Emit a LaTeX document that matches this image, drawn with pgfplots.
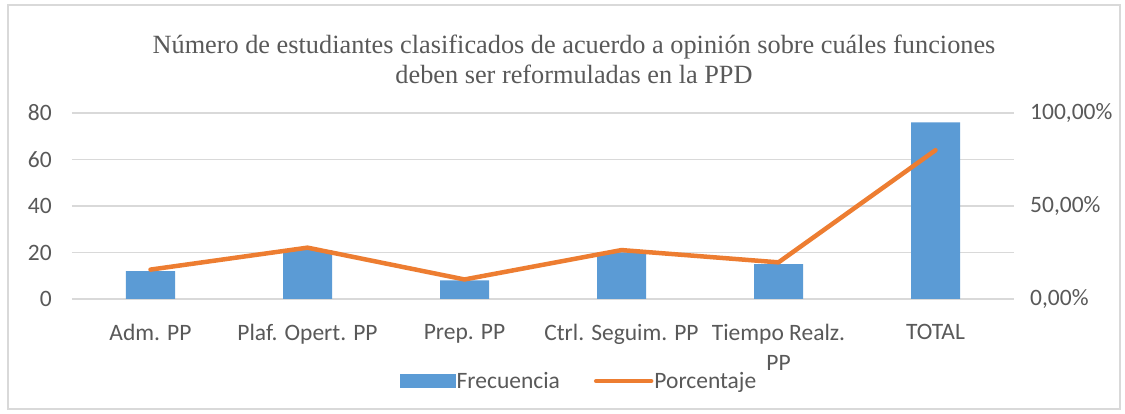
\documentclass[border=0pt]{standalone}
\usepackage{pgfplots}
\pgfplotsset{compat=1.18}
\usepackage{fontspec}
\setmainfont{Carlito}
\newfontfamily\titlefont{Liberation Serif}
\definecolor{barblue}{HTML}{5B9BD5}
\definecolor{lineor}{HTML}{ED7D31}
\definecolor{gridg}{HTML}{D9D9D9}
\definecolor{txt}{HTML}{595959}
\begin{document}
\begin{tikzpicture}
\useasboundingbox (-72pt,-115pt) rectangle (1053pt,299pt);
\fill[white] (-72pt,-115pt) rectangle (1053pt,299pt);
\draw[gridg, line width=1.2pt] (-64pt,-110pt) rectangle (1048pt,294pt);
\begin{axis}[
  at={(0pt,0pt)}, anchor=south west, scale only axis,
  width=942pt, height=186pt,
  xmin=-0.5, xmax=5.5, ymin=0, ymax=80,
  axis line style={draw=none}, tick style={draw=none},
  ymajorgrids, grid style={gridg, line width=1.6pt},
  ytick={0,20,40,60,80},
  /pgf/number format/assume math mode=true,
  xtick={0,1,2,3,4,5},
  xticklabels={Adm. PP, Plaf. Opert. PP, Prep. PP, Ctrl. Seguim. PP, {Tiempo Realz.\\PP}, TOTAL},
  tick label style={font=\fontsize{23.5}{30}\selectfont, text=txt},
  yticklabel style={anchor=east, inner sep=0pt, xshift=-20pt},
  xticklabel style={anchor=north, inner sep=0pt, yshift=-21pt, align=center},
  title={Número de estudiantes clasificados de acuerdo a opinión sobre cuáles funciones\\deben ser reformuladas en la PPD},
  title style={font=\titlefont\fontsize{26.3}{30}\selectfont, text=txt, align=center,
    at={(axis description cs:0.5,1)}, anchor=north, inner sep=0pt, yshift=72pt, xshift=31pt},
  ybar, bar width=49pt,
]
\addplot[fill=barblue, draw=none, bar shift=0pt] coordinates {(0,12) (1,21) (2,8) (3,20) (4,15) (5,76)};
\end{axis}
\begin{axis}[
  at={(0pt,0pt)}, anchor=south west, scale only axis,
  width=942pt, height=186pt,
  xmin=-0.5, xmax=5.5, ymin=0, ymax=1,
  axis x line=none, axis y line*=right,
  axis line style={draw=none}, tick style={draw=none},
  ytick={0,0.5,1},
  yticklabels={{0,00\%},{50,00\%},{100,00\%}},
  tick label style={font=\fontsize{23.5}{30}\selectfont, text=txt},
  yticklabel style={anchor=west, inner sep=0pt, xshift=16pt},
  legend columns=-1,
  legend style={draw=none, fill=none, at={(axis description cs:0.538,-0.441)}, anchor=center,
    font=\fontsize{23.5}{30}\selectfont, text=txt,
    nodes={inner sep=1pt},
    /tikz/every even column/.append style={column sep=33pt}},
]
\addlegendimage{legend image code/.code={\fill[barblue] (0pt,-6.5pt) rectangle (55pt,6.5pt);}}
\addlegendentry{Frecuencia}
\addplot[lineor, line width=4.5pt, line cap=round, line join=round, mark=none,
  legend image code/.code={\draw[lineor, line width=4.5pt] (0pt,0pt) -- (55pt,0pt);}]
  coordinates {(0,0.158) (1,0.276) (2,0.105) (3,0.263) (4,0.197) (5,0.80)};
\addlegendentry{Porcentaje}
\end{axis}
\end{tikzpicture}
\end{document}
